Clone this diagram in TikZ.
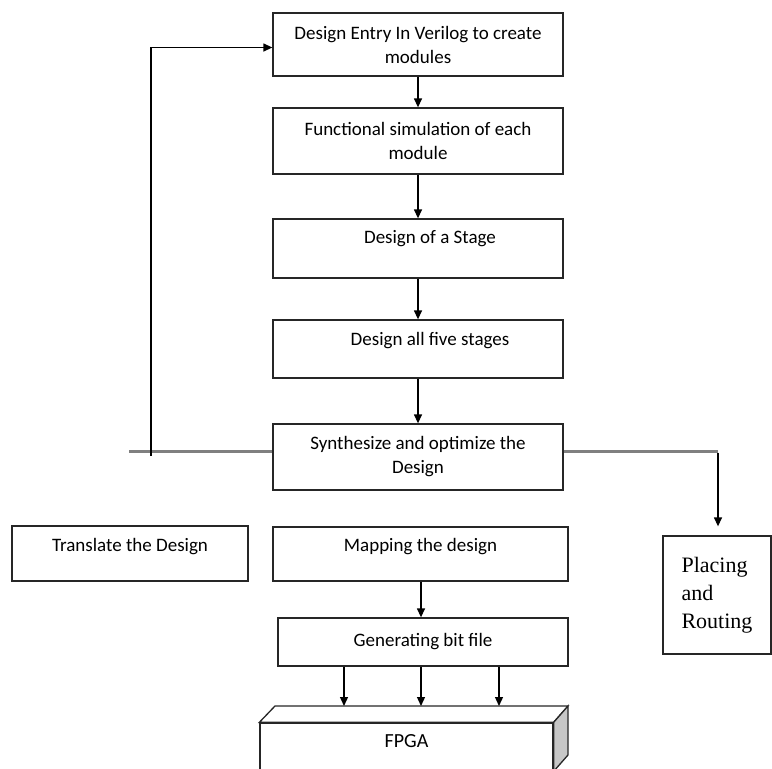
\documentclass[tikz,border=0pt]{standalone}
\usepackage{fontspec}
\setmainfont{Carlito}
\newfontfamily\serifbox{Liberation Serif}
\usepackage{tikz}
\usetikzlibrary{positioning, arrows.meta, calc}

\begin{document}
\begin{tikzpicture}[
			x=1pt, y=-1pt,
			block/.style={rectangle, draw=black!85, line width=1.3pt, align=center, inner sep=2pt, font=\fontsize{19}{24}\selectfont},
			arrow/.style={line width=1.3pt, -{Triangle[length=9pt, width=8pt]}},
			link/.style={line width=3pt, draw=black!50}
			]
			\clip (0,0) rectangle (772,769);
			
			% Nodes
			\node[block, minimum width=290pt, minimum height=63pt] (entry) at (418,44.5) {Design Entry In Verilog to create\\modules};
			\node[block, minimum width=290pt, minimum height=66pt] (func) at (418,141) {Functional simulation of each\\module};
			\node[block, minimum width=290pt, minimum height=59pt, text depth=23pt] (stage) at (418,248.5) {\hspace{24pt}Design of a Stage};
			\node[block, minimum width=290pt, minimum height=58pt, text depth=20pt] (five) at (418,349) {\hspace{24pt}Design all five stages};
			\node[block, minimum width=290pt, minimum height=66pt] (synth) at (418,457) {Synthesize and optimize the\\Design};
			
			\node[block, minimum width=236pt, minimum height=55pt, text depth=17pt] (translate) at (130,553.5) {Translate the Design};
			\node[block, minimum width=295pt, minimum height=54pt, text depth=18pt] (mapping) at (420.5,554) {Mapping the design};
			\node[block, minimum width=290pt, minimum height=48pt] (genbit) at (423,642) {Generating bit file};
			\node[block, minimum width=108pt, minimum height=118pt, align=left, font=\serifbox\fontsize{22}{28}\selectfont] (placing) at (717,595) {Placing\\and\\Routing};
			
			% FPGA block
			\node[block, minimum width=293pt, minimum height=50pt, text depth=14pt, font=\fontsize{20}{24}\selectfont] (fpga) at (406.5,748) {FPGA};
			\coordinate (backleft) at (275,706);
			\coordinate (backright) at (568,706);
			\coordinate (sidelow) at (568,755);
			\draw[block, fill=white] (fpga.north west) -- (backleft) -- (backright) -- (fpga.north east) -- cycle;
			\draw[block, fill=black!22] (fpga.north east) -- (backright) -- (sidelow) -- ($(fpga.north east)+(0,49)$) -- cycle;
			
			% Arrows
			\draw[arrow] (entry) -- (func);
			\draw[arrow] (func) -- (stage);
			\draw[arrow] (stage) -- (five);
			\draw[arrow] (five) -- (synth);
			\draw[arrow] ([xshift=0.5pt]mapping.south) -- ([xshift=-2pt]genbit.north);
			\foreach \dx in {-79,-2,76}
				\draw[arrow] ([xshift=\dx pt]genbit.south) -- ([xshift=\dx pt]genbit.south |- backleft);
			
			% Feedback and branch
			\coordinate (stub) at (129,451);
			\coordinate (turn) at (151,456);
			\coordinate (corner) at ($([yshift=6pt]synth.east -| placing.north)+(1,0)$);
			\draw[link] (stub) -- ([yshift=6pt]synth.west);
			\draw[arrow] (turn) |- ([yshift=-3pt]entry.west);
			\draw[link] ([yshift=6pt]synth.east) -- (corner);
			\draw[arrow, shorten >=9pt] ([yshift=-1.5pt]corner) -- ([xshift=1pt]placing.north);
			
		\end{tikzpicture}
\end{document}
